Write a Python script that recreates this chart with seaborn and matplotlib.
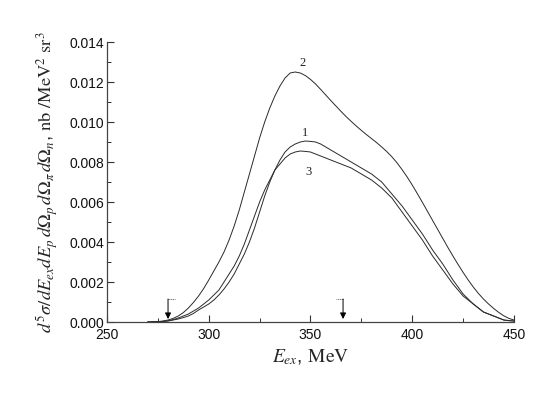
import numpy as np
import pandas as pd
import matplotlib
matplotlib.use("Agg")
import matplotlib.pyplot as plt
import seaborn as sns

# ---- data ----
E_ex = [270, 272.5, 275, 277.5, 280, 282.5, 285, 287.5, 290, 292.5, 295, 297.5,
        300, 302.5, 305, 307.5, 310, 312.5, 315, 317.5, 320, 322.5, 325, 327.5,
        330, 332.5, 335, 337.5, 340, 342.5, 345, 347.5, 350, 352.5, 355, 357.5,
        360, 362.5, 365, 367.5, 370, 372.5, 375, 377.5, 380, 382.5, 385, 387.5,
        390, 392.5, 395, 397.5, 400, 402.5, 405, 407.5, 410, 412.5, 415, 417.5,
        420, 422.5, 425, 427.5, 430, 432.5, 435, 437.5, 440, 442.5, 445, 447.5,
        450]

curve1 = [0.0, 0.000005, 0.00001, 0.00003, 0.00005, 0.0001, 0.00015, 0.00022,
          0.0003, 0.00043, 0.0006, 0.00075, 0.0009, 0.0011, 0.00135, 0.00165,
          0.0020, 0.0024, 0.0029, 0.0034, 0.0040, 0.0047, 0.0055, 0.0063,
          0.0070, 0.0076, 0.0081, 0.0085, 0.00875, 0.0089, 0.0090, 0.00905,
          0.00903, 0.0090, 0.0089, 0.00875, 0.0086, 0.00845, 0.0083, 0.00815,
          0.0080, 0.00785, 0.0077, 0.00755, 0.0074, 0.0072, 0.0070, 0.0067,
          0.0064, 0.0061, 0.0058, 0.00545, 0.0051, 0.00475, 0.0044, 0.0040,
          0.0036, 0.00325, 0.0029, 0.0025, 0.0021, 0.00175, 0.0014, 0.00115,
          0.0009, 0.0007, 0.0005, 0.0004, 0.0003, 0.0002, 0.0001, 0.00007,
          0.00005]

curve2 = [0.0, 0.00001, 0.00002, 0.00005, 0.0001, 0.00018, 0.0003, 0.00047,
          0.0007, 0.00098, 0.0013, 0.00167, 0.0021, 0.00255, 0.0030, 0.0035,
          0.0041, 0.0048, 0.0056, 0.0065, 0.0074, 0.0083, 0.0092, 0.0100,
          0.0107, 0.0113, 0.0118, 0.0122, 0.01245, 0.0125, 0.01245, 0.01232,
          0.01213, 0.0119, 0.01163, 0.01135, 0.01107, 0.0108, 0.01053, 0.01027,
          0.01003, 0.0098, 0.00958, 0.00937, 0.00917, 0.00897, 0.00875, 0.00852,
          0.00826, 0.00796, 0.00762, 0.00725, 0.00685, 0.00642, 0.00598, 0.00553,
          0.00508, 0.00463, 0.00418, 0.00373, 0.0033, 0.00288, 0.00248, 0.0021,
          0.00175, 0.00143, 0.00115, 0.0009, 0.00068, 0.00048, 0.00031, 0.00018,
          0.0001]

curve3 = [0.0, 0.000005, 0.00001, 0.00003, 0.00006, 0.00012, 0.0002, 0.0003,
          0.0004, 0.00055, 0.0007, 0.0009, 0.0011, 0.00135, 0.0016, 0.0020,
          0.0024, 0.0028, 0.0033, 0.0039, 0.0046, 0.0053, 0.0060, 0.0066,
          0.0071, 0.0076, 0.0079, 0.0082, 0.0084, 0.0085, 0.00855, 0.00853,
          0.0085, 0.0084, 0.0083, 0.0082, 0.0081, 0.0080, 0.0079, 0.0078,
          0.0077, 0.00755, 0.0074, 0.00725, 0.0071, 0.0069, 0.0067, 0.00645,
          0.0062, 0.00585, 0.0055, 0.00515, 0.0048, 0.00445, 0.0041, 0.0037,
          0.0033, 0.00295, 0.0026, 0.00225, 0.0019, 0.0016, 0.0013, 0.0011,
          0.0009, 0.0007, 0.0005, 0.0004, 0.0003, 0.0002, 0.0001, 0.00007,
          0.00005]

curve_labels = ["1", "2", "3"]
label_E = [347.3, 345.9, 349.0]
label_y = [0.00943, 0.01295, 0.0075]

threshold_E = [280, 366]
arrow_top = 0.00115
arrow_bottom = 0.00015

x_ticks = [250, 300, 350, 400, 450]
y_ticks = [0.000, 0.002, 0.004, 0.006, 0.008, 0.010, 0.012, 0.014]

df = pd.concat([
    pd.DataFrame({"E": E_ex, "value": curve1, "curve": "1"}),
    pd.DataFrame({"E": E_ex, "value": curve2, "curve": "2"}),
    pd.DataFrame({"E": E_ex, "value": curve3, "curve": "3"}),
])

sns.set_style("ticks")
plt.rcParams["font.family"] = ["Liberation Sans", "DejaVu Sans"]
plt.rcParams["mathtext.fontset"] = "stix"

fig = plt.figure(figsize=(5.54, 3.94), dpi=100)
ax = fig.add_axes([0.1931, 0.1827, 0.9278 - 0.1931, 0.8934 - 0.1827])

sns.lineplot(data=df, x="E", y="value", hue="curve",
             palette=["#2a2a2a", "#2a2a2a", "#2a2a2a"], linewidth=0.7,
             legend=False, ax=ax, estimator=None, sort=True)

for lab, xe, ye in zip(curve_labels, label_E, label_y):
    ax.text(xe, ye, lab, fontsize=9, family=["Liberation Serif"],
            ha="center", va="center", color="#222222")

# threshold arrows with small brackets
bracket_dir = [1, -1]
for xe, d in zip(threshold_E, bracket_dir):
    ax.annotate("", xy=(xe, arrow_bottom), xytext=(xe, arrow_top),
                arrowprops=dict(arrowstyle="-|>", color="black", lw=0.7,
                                mutation_scale=9, shrinkA=0, shrinkB=0))
    ax.plot([xe, xe + d * 3.5], [arrow_top, arrow_top], color="#555555",
            lw=0.6, linestyle=(0, (1.5, 1)))

ax.set_xlim(250, 450)
ax.set_ylim(0, 0.014)
ax.set_xticks(x_ticks)
ax.set_yticks(y_ticks)
ax.set_yticklabels([f"{v:.3f}" for v in y_ticks])
ax.xaxis.set_minor_locator(matplotlib.ticker.MultipleLocator(25))
ax.yaxis.set_minor_locator(matplotlib.ticker.MultipleLocator(0.001))
ax.tick_params(axis="both", which="major", direction="in", length=5,
               width=0.8, labelsize=10, color="#333333", labelcolor="#111111")
ax.tick_params(axis="x", which="major", pad=4)
ax.tick_params(axis="y", which="major", pad=2)
ax.tick_params(axis="both", which="minor", direction="in", length=3,
               width=0.7, color="#333333")
for side in ["top", "right"]:
    ax.spines[side].set_visible(False)
for side in ["left", "bottom"]:
    ax.spines[side].set_linewidth(0.9)
    ax.spines[side].set_color("#444444")

ax.set_xlabel(r"$E_{ex}$, $\mathrm{MeV}$", fontsize=14, labelpad=4)
ax.set_ylabel(r"$d^5\sigma/dE_{ex}dE_p\,d\Omega_p\,d\Omega_\pi\,d\Omega_n$, "
              r"$\mathrm{nb\ /MeV^2\ sr^3}$", fontsize=13.3, labelpad=7)

fig.savefig("out.png", dpi=100)
